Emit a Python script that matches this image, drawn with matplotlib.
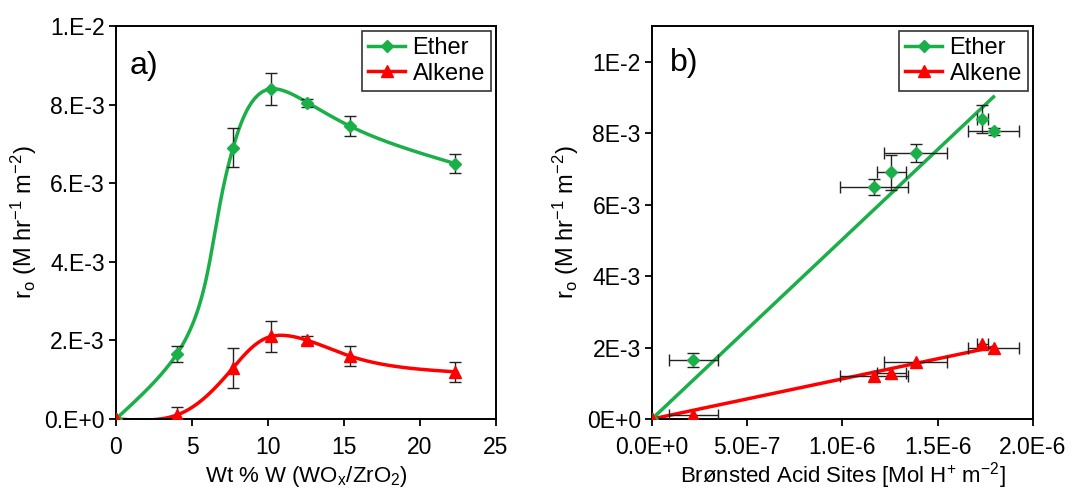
import numpy as np
import matplotlib
matplotlib.use("Agg")
import matplotlib.pyplot as plt
from matplotlib.ticker import FixedLocator, FixedFormatter

plt.rcParams['font.family'] = ['Liberation Sans', 'DejaVu Sans']
plt.rcParams['mathtext.fontset'] = 'custom'
plt.rcParams['mathtext.rm'] = 'Liberation Sans'
plt.rcParams['mathtext.it'] = 'Liberation Sans'

# ---- data: panel a ----
wt_w = [0, 4.0, 7.7, 10.2, 12.6, 15.4, 22.3]
ether_rate = [0, 1.65e-3, 6.9e-3, 8.4e-3, 8.05e-3, 7.45e-3, 6.5e-3]
ether_err = [0, 0.2e-3, 0.5e-3, 0.4e-3, 0.1e-3, 0.25e-3, 0.23e-3]
alkene_rate = [0, 0.1e-3, 1.3e-3, 2.1e-3, 2.0e-3, 1.6e-3, 1.2e-3]
alkene_err = [0, 0.2e-3, 0.5e-3, 0.4e-3, 0.1e-3, 0.25e-3, 0.25e-3]

# ---- data: panel b ----
bas = [0, 0.217e-6, 1.165e-6, 1.256e-6, 1.384e-6, 1.734e-6, 1.793e-6]
bas_err = [0, 0.13e-6, 0.18e-6, 0.075e-6, 0.166e-6, 0.03e-6, 0.133e-6]
ether_b = [0, 1.65e-3, 6.5e-3, 6.9e-3, 7.45e-3, 8.4e-3, 8.05e-3]
ether_b_err = [0, 0.2e-3, 0.23e-3, 0.5e-3, 0.25e-3, 0.4e-3, 0.1e-3]
alkene_b = [0, 0.1e-3, 1.2e-3, 1.3e-3, 1.6e-3, 2.1e-3, 2.0e-3]

# tick labels
a_xticks = [0, 5, 10, 15, 20, 25]
a_yticks = [0, 2e-3, 4e-3, 6e-3, 8e-3, 1e-2]
a_ylabels = ['0.E+0', '2.E-3', '4.E-3', '6.E-3', '8.E-3', '1.E-2']
b_xticks = [0, 5e-7, 1e-6, 1.5e-6, 2e-6]
b_xlabels = ['0.0E+0', '5.0E-7', '1.0E-6', '1.5E-6', '2.0E-6']
b_yticks = [0, 2e-3, 4e-3, 6e-3, 8e-3, 1e-2]
b_ylabels = ['0E+0', '2E-3', '4E-3', '6E-3', '8E-3', '1E-2']

GREEN = '#1aaf48'
RED = '#ff0000'
TICK_FS = 16.5
LABEL_FS = 16
YLABEL_FS = 17
LEG_FS = 17


def natural_1d(t, v, ts):
    t = np.asarray(t, float); v = np.asarray(v, float)
    m = len(t); h = np.diff(t)
    A = np.zeros((m, m)); r = np.zeros(m)
    A[0, 0] = A[-1, -1] = 1
    for i in range(1, m - 1):
        A[i, i - 1] = h[i - 1]; A[i, i] = 2 * (h[i - 1] + h[i]); A[i, i + 1] = h[i]
        r[i] = 6 * ((v[i + 1] - v[i]) / h[i] - (v[i] - v[i - 1]) / h[i - 1])
    M = np.linalg.solve(A, r)
    idx = np.clip(np.searchsorted(t, ts) - 1, 0, m - 2)
    t0, t1 = t[idx], t[idx + 1]; hh = t1 - t0
    a = t1 - ts; b = ts - t0
    return (M[idx] * a**3 + M[idx + 1] * b**3) / (6 * hh) \
        + (v[idx] / hh - M[idx] * hh / 6) * a + (v[idx + 1] / hh - M[idx + 1] * hh / 6) * b


def parametric_spline(x, y, xscale, yscale, n=600):
    # chord-length parametric cubic spline in (normalised) display space
    x = np.asarray(x, float); y = np.asarray(y, float)
    u = x / xscale; w = y / yscale
    d = np.hypot(np.diff(u), np.diff(w))
    t = np.concatenate([[0], np.cumsum(d)])
    ts = np.linspace(0, t[-1], n)
    return natural_1d(t, u, ts) * xscale, natural_1d(t, w, ts) * yscale


def style_axes(ax):
    for s in ax.spines.values():
        s.set_linewidth(1.4)
    ax.tick_params(direction='out', length=5, width=1.3, labelsize=TICK_FS, top=False, right=False)
    ax.tick_params(axis='y', pad=3)
    ax.tick_params(axis='x', pad=7)


fig = plt.figure(figsize=(10.91, 4.92), dpi=100)
ax1 = fig.add_axes([0.1063, 0.1484, 0.3483, 0.7988])
ax2 = fig.add_axes([0.5976, 0.1484, 0.3492, 0.7988])

ebkw = dict(fmt='none', ecolor='#222222', elinewidth=1, capsize=4, capthick=1, zorder=3)

# ---- panel a ----
xs, ys = parametric_spline(wt_w, ether_rate, 25, 1e-2)
ax1.plot(xs, ys, color=GREEN, lw=2.5, zorder=2)
xs, ys = parametric_spline(wt_w, alkene_rate, 25, 1e-2)
ax1.plot(xs, ys, color=RED, lw=2.5, zorder=2)
ax1.errorbar(wt_w, ether_rate, yerr=ether_err, **ebkw)
ax1.errorbar(wt_w, alkene_rate, yerr=alkene_err, **ebkw)
ax1.plot(wt_w, ether_rate, linestyle='none', marker='D', ms=6, color=GREEN, zorder=4)
ax1.plot(wt_w, alkene_rate, linestyle='none', marker='^', ms=8, color=RED, zorder=4)
le, = ax1.plot([], [], color=GREEN, lw=2.5, marker='D', ms=6, label='Ether')
la, = ax1.plot([], [], color=RED, lw=2.5, marker='^', ms=8, label='Alkene')
ax1.set_xlim(0, 25)
ax1.set_ylim(0, 1e-2)
ax1.xaxis.set_major_locator(FixedLocator(a_xticks))
ax1.xaxis.set_major_formatter(FixedFormatter([str(t) for t in a_xticks]))
ax1.yaxis.set_major_locator(FixedLocator(a_yticks))
ax1.yaxis.set_major_formatter(FixedFormatter(a_ylabels))
ax1.set_xlabel(r'Wt % W (WO$_\mathregular{x}$/ZrO$_\mathregular{2}$)', fontsize=LABEL_FS, labelpad=4)
ax1.set_ylabel(r'r$_\mathregular{o}$ (M hr$^\mathregular{-1}$ m$^\mathregular{-2}$)', fontsize=YLABEL_FS, labelpad=4)
ax1.text(0.037, 0.898, 'a)', transform=ax1.transAxes, fontsize=23, va='center', ha='left')
style_axes(ax1)

# ---- panel b ----
bx = np.asarray(bas); ye = np.asarray(ether_b); ya = np.asarray(alkene_b)
ke = np.sum(bx * ye) / np.sum(bx * bx)
ka = np.sum(bx * ya) / np.sum(bx * bx)
xl = np.array([0, bx.max()])
ax2.plot(xl, ke * xl, color=GREEN, lw=2.5, zorder=2)
ax2.plot(xl, ka * xl, color=RED, lw=2.5, zorder=2)
ax2.errorbar(bas, ether_b, xerr=bas_err, yerr=ether_b_err, **ebkw)
ax2.errorbar(bas, alkene_b, xerr=bas_err, **ebkw)
ax2.plot(bas, ether_b, linestyle='none', marker='D', ms=6, color=GREEN, zorder=4)
ax2.plot(bas, alkene_b, linestyle='none', marker='^', ms=8, color=RED, zorder=4)
le2, = ax2.plot([], [], color=GREEN, lw=2.5, marker='D', ms=6, label='Ether')
la2, = ax2.plot([], [], color=RED, lw=2.5, marker='^', ms=8, label='Alkene')
ax2.set_xlim(0, 2e-6)
ax2.set_ylim(0, 1.1e-2)
ax2.xaxis.set_major_locator(FixedLocator(b_xticks))
ax2.xaxis.set_major_formatter(FixedFormatter(b_xlabels))
ax2.yaxis.set_major_locator(FixedLocator(b_yticks))
ax2.yaxis.set_major_formatter(FixedFormatter(b_ylabels))
ax2.set_xlabel(r'Brønsted Acid Sites [Mol H$^\mathregular{+}$ m$^\mathregular{-2}$]', fontsize=LABEL_FS, labelpad=1)
ax2.set_ylabel(r'r$_\mathregular{o}$ (M hr$^\mathregular{-1}$ m$^\mathregular{-2}$)', fontsize=YLABEL_FS, labelpad=4)
ax2.text(0.047, 0.906, 'b)', transform=ax2.transAxes, fontsize=23, va='center', ha='left')
style_axes(ax2)

for ax, hs in ((ax1, [le, la]), (ax2, [le2, la2])):
    leg = ax.legend(handles=hs, loc='upper right', fontsize=LEG_FS, frameon=True, fancybox=False,
                    edgecolor='black', handlelength=1.6, borderaxespad=0.22, borderpad=0.25,
                    labelspacing=0.15, handletextpad=0.3)
    leg.get_frame().set_linewidth(1.2)

fig.savefig('out.png', dpi=100)
